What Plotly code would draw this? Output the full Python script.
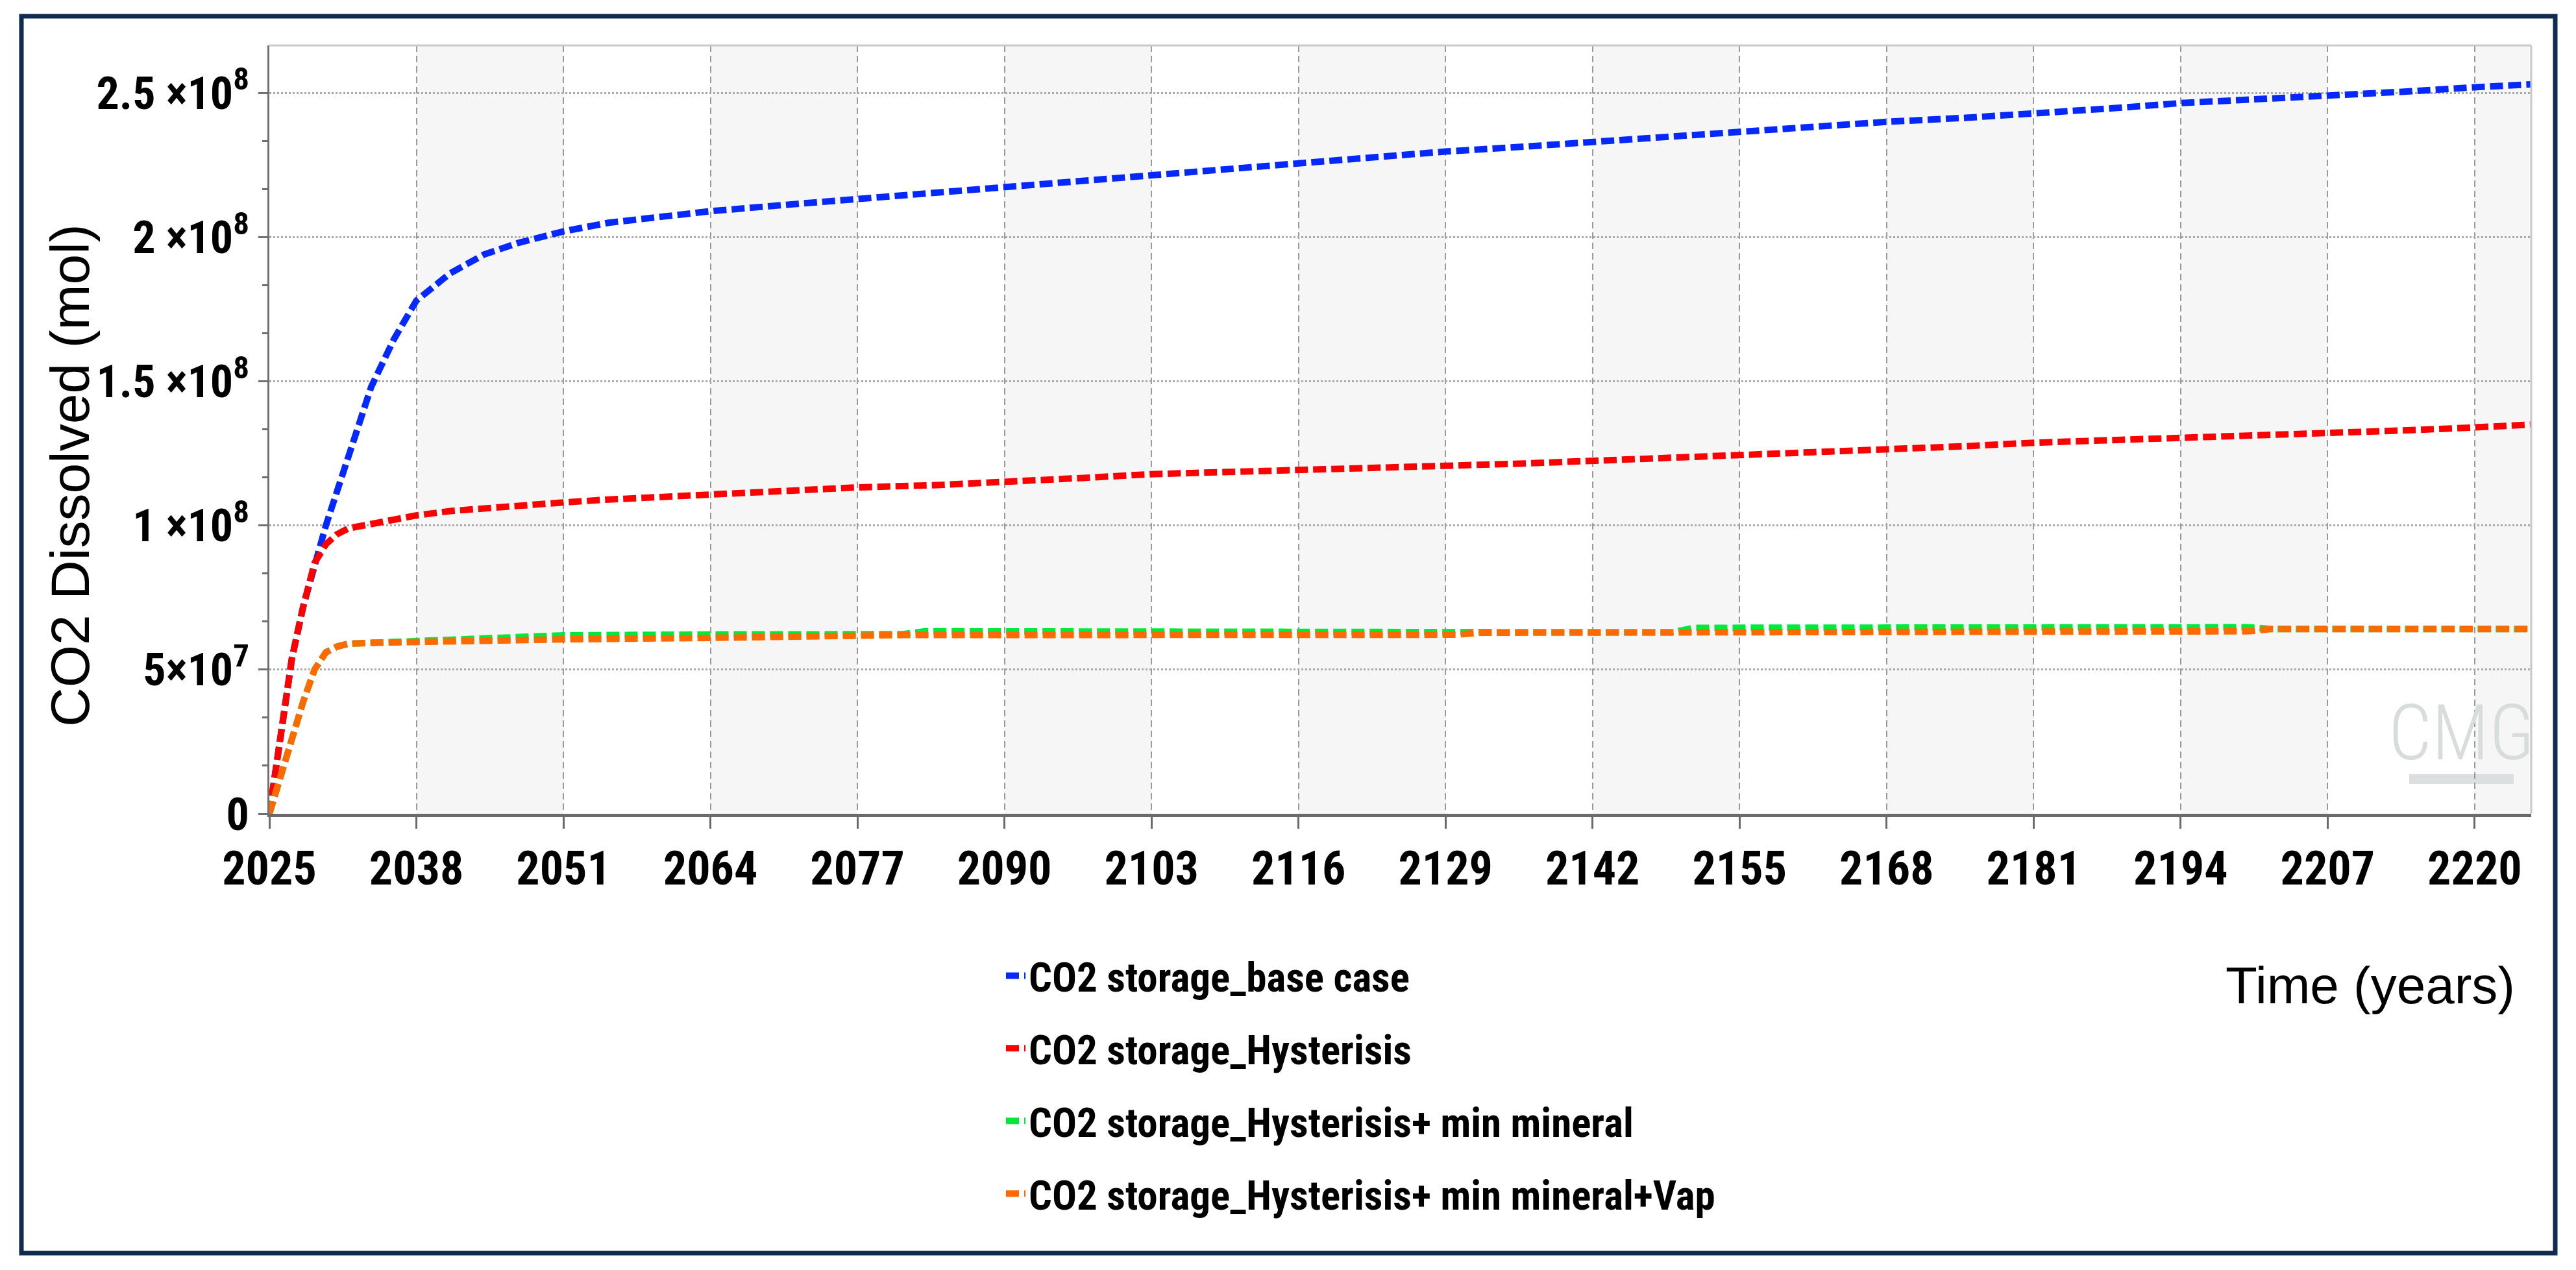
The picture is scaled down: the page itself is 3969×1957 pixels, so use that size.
import plotly.graph_objects as go

# ---------------- data ----------------
years_br = [2025, 2026, 2027, 2028, 2029, 2030, 2031, 2032, 2034, 2036, 2038, 2041, 2044,
            2047, 2051, 2055, 2060, 2064, 2070, 2077, 2084, 2090, 2097, 2103, 2110, 2116,
            2123, 2129, 2136, 2142, 2149, 2155, 2162, 2168, 2175, 2181, 2188, 2194, 2201,
            2207, 2214, 2220, 2225]
base_case = [0, 2.9e7, 5.4e7, 7.2e7, 8.7e7, 1.0e8, 1.12e8, 1.245e8, 1.48e8, 1.645e8, 1.78e8,
             1.875e8, 1.94e8, 1.98e8, 2.02e8, 2.05e8, 2.075e8, 2.09e8, 2.11e8, 2.132e8,
             2.155e8, 2.178e8, 2.198e8, 2.218e8, 2.24e8, 2.259e8, 2.279e8, 2.297e8, 2.314e8,
             2.331e8, 2.35e8, 2.368e8, 2.385e8, 2.4e8, 2.414e8, 2.428e8, 2.447e8, 2.465e8,
             2.478e8, 2.49e8, 2.505e8, 2.52e8, 2.53e8]
hysteresis = [0, 2.9e7, 5.4e7, 7.2e7, 8.7e7, 9.35e7, 9.7e7, 9.9e7, 1.005e8, 1.02e8, 1.035e8,
              1.05e8, 1.06e8, 1.07e8, 1.08e8, 1.09e8, 1.10e8, 1.11e8, 1.12e8, 1.132e8, 1.14e8,
              1.149e8, 1.165e8, 1.178e8, 1.187e8, 1.195e8, 1.2e8, 1.207e8, 1.215e8, 1.224e8,
              1.232e8, 1.241e8, 1.252e8, 1.264e8, 1.275e8, 1.287e8, 1.295e8, 1.305e8,
              1.313e8, 1.32e8, 1.33e8, 1.34e8, 1.35e8]

years_go = [2025, 2026, 2027, 2028, 2029, 2030, 2031, 2032, 2034, 2038, 2041, 2044, 2049,
            2051, 2064, 2070, 2077, 2081, 2083, 2103, 2130, 2132, 2149, 2151, 2175, 2200,
            2202, 2225]
hyst_min_mineral = [0, 1.3e7, 2.5e7, 3.9e7, 5.0e7, 5.6e7, 5.8e7, 5.9e7, 5.93e7, 5.98e7,
                    6.03e7, 6.08e7, 6.17e7, 6.19e7, 6.22e7, 6.22e7, 6.22e7, 6.23e7, 6.33e7,
                    6.33e7, 6.33e7, 6.28e7, 6.29e7, 6.45e7, 6.46e7, 6.47e7, 6.41e7, 6.41e7]
hyst_min_mineral_vap = [0, 1.3e7, 2.5e7, 3.9e7, 5.0e7, 5.6e7, 5.8e7, 5.9e7, 5.93e7, 5.97e7,
                        5.99e7, 6.01e7, 6.04e7, 6.05e7, 6.1e7, 6.15e7, 6.2e7, 6.2e7, 6.2e7,
                        6.2e7, 6.21e7, 6.28e7, 6.29e7, 6.31e7, 6.32e7, 6.33e7, 6.41e7, 6.41e7]

series_names = ["CO2 storage_base case", "CO2 storage_Hysterisis",
                "CO2 storage_Hysterisis+ min mineral",
                "CO2 storage_Hysterisis+ min mineral+Vap"]
series_colors = ["#0528ff", "#ff0000", "#00e83c", "#ff6a00"]

x_tickvals = [2025, 2038, 2051, 2064, 2077, 2090, 2103, 2116, 2129, 2142, 2155, 2168,
              2181, 2194, 2207, 2220]
y_tickvals = [0, 5e7, 1e8, 1.5e8, 2e8, 2.5e8]
y_ticktext = ["0", "5×10<sup>7</sup>", "1 ×10<sup>8</sup>", "1.5 ×10<sup>8</sup>",
              "2 ×10<sup>8</sup>", "2.5 ×10<sup>8</sup>"]
x_range = [2025, 2225]
y_range = [0, 2.665e8]

# ---------------- styling ----------------
W, H = 3969, 1957
L, R, T, B = 415, 3900, 70, 1254          # plot area in pixels
NARROW = "Roboto Condensed, Liberation Sans, Arial, sans-serif"
ARIAL = "Liberation Sans, Arial, sans-serif"
DASH = "20px,8px"


def px_x(p):
    return (p - L) / (R - L)


def px_y(p):
    return (B - p) / (B - T)


fig = go.Figure()
xs = [years_br, years_br, years_go, years_go]
ys = [base_case, hysteresis, hyst_min_mineral, hyst_min_mineral_vap]
for i in range(4):
    fig.add_trace(go.Scatter(
        x=xs[i], y=ys[i], mode="lines", name=series_names[i],
        legendgroup=f"g{i}",
        line=dict(color=series_colors[i], width=10, dash=DASH),
    ))

shapes = []
# alternating shaded bands between vertical gridlines
band_edges = x_tickvals + [x_range[1]]
for k in range(1, len(band_edges) - 1, 2):
    shapes.append(dict(type="rect", xref="x", yref="paper", x0=band_edges[k],
                       x1=band_edges[k + 1], y0=0, y1=1, fillcolor="#f6f6f6",
                       line=dict(width=0), layer="below"))
# light top/right frame of plot area
shapes.append(dict(type="line", xref="paper", yref="paper", x0=0, x1=1, y0=1, y1=1,
                   line=dict(color="#c9c9c9", width=3)))
shapes.append(dict(type="line", xref="paper", yref="paper", x0=1, x1=1, y0=0, y1=1,
                   line=dict(color="#c9c9c9", width=3)))
# outer navy border
shapes.append(dict(type="rect", xref="paper", yref="paper",
                   x0=px_x(33), x1=px_x(3937), y0=px_y(1931), y1=px_y(25),
                   line=dict(color="#0f2b52", width=7), fillcolor="rgba(0,0,0,0)"))
# CMG watermark underline
shapes.append(dict(type="rect", xref="paper", yref="paper",
                   x0=px_x(3712), x1=px_x(3873), y0=px_y(1208), y1=px_y(1193),
                   fillcolor="#dcdfdf", line=dict(width=0), layer="below"))

annotations = [
    dict(text="CO2 Dissolved (mol)", xref="paper", yref="paper", x=px_x(108), y=px_y(733),
         textangle=-90, showarrow=False, xanchor="center", yanchor="middle",
         font=dict(family=ARIAL, size=84, color="black")),
    dict(text="Time (years)", xref="paper", yref="paper", x=px_x(3877), y=px_y(1518),
         showarrow=False, xanchor="right", yanchor="middle",
         font=dict(family=ARIAL, size=80, color="black")),
    dict(text="CMG", xref="paper", yref="paper", x=px_x(3792), y=px_y(1130),
         showarrow=False, xanchor="center", yanchor="middle",
         font=dict(family=NARROW, size=118, color="#d8dcdc", weight=300)),
]

fig.update_layout(
    width=W, height=H,
    margin=dict(l=L, r=W - R, t=T, b=H - B, pad=0),
    paper_bgcolor="white", plot_bgcolor="white",
    shapes=shapes, annotations=annotations,
    showlegend=True,
    legend=dict(x=px_x(1545), y=px_y(1456), xanchor="left", yanchor="top",
                traceorder="grouped", tracegroupgap=27,
                font=dict(family=NARROW, size=63, color="black", weight="bold"),
                bgcolor="rgba(0,0,0,0)"),
    xaxis=dict(range=x_range, tickmode="array", tickvals=x_tickvals,
               ticks="outside", ticklen=18, tickwidth=3, tickcolor="#6a6a6a",
               showline=True, linecolor="#6a6a6a", linewidth=5,
               showgrid=True, gridcolor="#9a9a9a", gridwidth=2, griddash="10px,6px",
               zeroline=False,
               tickfont=dict(family=NARROW, size=72, color="black", weight="bold")),
    yaxis=dict(range=y_range, tickmode="array", tickvals=y_tickvals, ticktext=y_ticktext,
               ticks="outside", ticklen=14, tickwidth=3, tickcolor="#707070",
               showline=True, linecolor="#707070", linewidth=3,
               showgrid=True, gridcolor="#a8a8a8", gridwidth=3, griddash="3px,3px",
               zeroline=False,
               minor=dict(tick0=0, dtick=5e7 / 3, ticks="outside", ticklen=8,
                          tickwidth=3, tickcolor="#707070", showgrid=False),
               tickfont=dict(family=NARROW, size=70, color="black", weight="bold")),
)

fig.write_html("out.html", config={"displayModeBar": False},
               post_script="document.body.style.margin='0';")
